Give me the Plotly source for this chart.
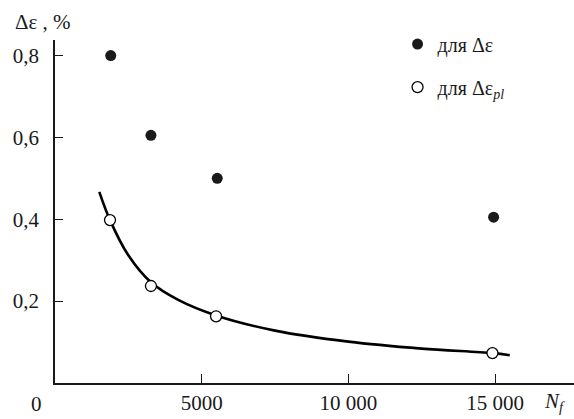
import plotly.graph_objects as go

# Data
n_total = [1900, 3270, 5530, 14950]
de_total = [0.80, 0.605, 0.50, 0.405]

n_pl = [1875, 3270, 5490, 14910]
de_pl = [0.398, 0.237, 0.163, 0.073]

# Points
curve_n = [1510, 1875, 2500, 3270, 4200, 5490, 7500, 10000, 12500, 14900, 15500]
curve_de = [0.467, 0.398, 0.312, 0.246, 0.203, 0.165, 0.128, 0.101, 0.084, 0.073, 0.068]

x_ticks = [5000, 10000, 15000]
x_ticktext = ["5000", "10 000", "15 000"]
y_ticks = [0.2, 0.4, 0.6, 0.8]
y_ticktext = ["0,2", "0,4", "0,6", "0,8"]

FONT = "Times New Roman, Liberation Serif, serif"

fig = go.Figure()
fig.add_trace(go.Scatter(x=curve_n, y=curve_de, mode="lines", line=dict(color="black", width=2.6, shape="spline"),
                         showlegend=False, hoverinfo="skip"))
fig.add_trace(go.Scatter(x=n_total, y=de_total, mode="markers", name="для Δε", legendgroup="a",
                         marker=dict(symbol="circle", size=11, color="#1a1a1a", line=dict(width=0))))
fig.add_trace(go.Scatter(x=n_pl, y=de_pl, mode="markers", name="для Δε<sub><i>pl</i></sub>", legendgroup="b",
                         marker=dict(symbol="circle", size=11, color="white", line=dict(width=1.3, color="black"))))

fig.update_layout(
    width=574, height=419,
    margin=dict(l=55, r=0, t=40, b=36),
    paper_bgcolor="white", plot_bgcolor="white",
    font=dict(family=FONT, size=21, color="#1a1a1a"),
    showlegend=True,
    legend=dict(x=0.66, y=1.045, xanchor="left", yanchor="top", bgcolor="rgba(0,0,0,0)",
                font=dict(family=FONT, size=20), traceorder="grouped", tracegroupgap=14,
                itemwidth=30),
    xaxis=dict(range=[0, 17690], showgrid=False, zeroline=False, showline=True, linecolor="#1a1a1a", linewidth=1.6,
               ticks="inside", ticklen=9, tickwidth=1.3, tickcolor="#1a1a1a",
               tickvals=x_ticks, ticktext=x_ticktext, tickfont=dict(family=FONT, size=21),
               ticklabelstandoff=0),
    yaxis=dict(range=[0, 0.838], showgrid=False, zeroline=False, showline=True, linecolor="#1a1a1a", linewidth=1.6,
               ticks="inside", ticklen=8, tickwidth=1.3, tickcolor="#1a1a1a",
               tickvals=y_ticks, ticktext=y_ticktext, tickfont=dict(family=FONT, size=21),
               ticklabelstandoff=10),
    annotations=[
        dict(text="Δε , %", xref="paper", yref="paper", x=-0.08, y=1.053, xanchor="left", yanchor="middle",
             showarrow=False, font=dict(family=FONT, size=21)),
        dict(text="0", xref="paper", yref="paper", x=-0.035, y=-0.06, xanchor="center", yanchor="middle",
             showarrow=False, font=dict(family=FONT, size=21)),
        dict(text="<i>N<sub>f</sub></i>", xref="paper", yref="paper", x=0.963, y=-0.055, xanchor="center", yanchor="middle",
             showarrow=False, font=dict(family=FONT, size=21)),
    ],
)

fig.write_html("out.html")
